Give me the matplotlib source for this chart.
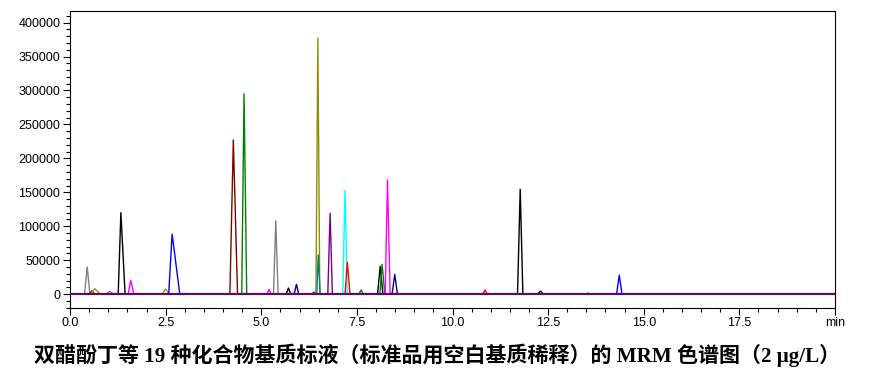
import matplotlib.pyplot as plt
from matplotlib.ticker import MultipleLocator

# peaks: retention time (min), height, left/right half base width (min)
peak_times = [0.45, 0.57, 0.65, 1.04, 1.33, 1.59, 2.50, 2.67, 4.27, 4.55,
              5.20, 5.38, 5.71, 5.92, 6.38, 6.48, 6.49, 6.80, 7.19, 7.25,
              7.61, 8.11, 8.16, 8.30, 8.49, 10.85, 11.77, 12.30, 13.55, 14.36]
peak_heights = [40000, 5000, 8000, 4000, 120000, 20500, 7500, 88500, 227000, 295000,
                7000, 108000, 9000, 14500, 3000, 377000, 57500, 119000, 153000, 47000,
                6000, 41000, 44000, 168000, 29000, 6000, 154500, 4500, 2000, 28000]
peak_left = [0.07, 0.07, 0.12, 0.10, 0.07, 0.07, 0.10, 0.09, 0.09, 0.06,
             0.05, 0.06, 0.06, 0.06, 0.06, 0.05, 0.04, 0.06, 0.06, 0.06,
             0.06, 0.07, 0.06, 0.06, 0.07, 0.06, 0.07, 0.08, 0.04, 0.07]
peak_right = [0.07, 0.07, 0.14, 0.10, 0.11, 0.08, 0.10, 0.20, 0.11, 0.07,
              0.05, 0.06, 0.06, 0.06, 0.06, 0.05, 0.05, 0.06, 0.06, 0.07,
              0.06, 0.07, 0.07, 0.07, 0.07, 0.06, 0.07, 0.08, 0.04, 0.07]
peak_colors = ['gray', '#8b1a1a', '#9a9a00', 'gray', 'black', 'magenta', '#9a9a00', 'blue', '#800000', 'green',
               'magenta', 'gray', 'black', 'navy', '#8b1a1a', '#8f8f00', 'teal', 'purple', 'cyan', 'red',
               'green', 'black', 'green', 'magenta', 'navy', 'red', 'black', 'black', 'cornflowerblue', 'blue']

x_ticks = [0.0, 2.5, 5.0, 7.5, 10.0, 12.5, 15.0, 17.5, 20.0]
x_labels = ['0.0', '2.5', '5.0', '7.5', '10.0', '12.5', '15.0', '17.5', 'min']
y_ticks = [0, 50000, 100000, 150000, 200000, 250000, 300000, 350000, 400000]

fig = plt.figure(figsize=(8.85, 3.72), dpi=100)
ax = fig.add_axes([0.0791, 0.1728, 0.8644, 0.7976])

for t, h, wl, wr, c in zip(peak_times, peak_heights, peak_left, peak_right, peak_colors):
    ax.plot([t - wl, t, t + wr], [0, h, 0], color=c, lw=1.0)

# baseline
ax.plot([0, 20], [0, 0], color='#5a0a6a', lw=1.6)

ax.set_xlim(0, 20)
ax.set_ylim(-20000, 417000)
ax.set_xticks(x_ticks)
ax.set_xticklabels(x_labels)
ax.set_yticks(y_ticks)
ax.set_yticklabels([str(v) for v in y_ticks])
ax.xaxis.set_minor_locator(MultipleLocator(0.5))
ax.yaxis.set_minor_locator(MultipleLocator(10000))
ax.tick_params(which='major', length=5, width=0.8, labelsize=9, pad=2)
ax.tick_params(which='minor', length=3, width=0.8)
for lab in ax.get_xticklabels() + ax.get_yticklabels():
    lab.set_family('Liberation Sans')
for s in ax.spines.values():
    s.set_linewidth(0.8)

fig.text(0.494, 0.046, '双醋酚丁等 19 种化合物基质标液（标准品用空白基质稀释）的 MRM 色谱图（2 μg/L）',
         ha='center', va='center', fontsize=15.1, fontweight='bold',
         family=['Liberation Serif', 'Noto Sans CJK SC'])

fig.savefig('out.png', dpi=100)
